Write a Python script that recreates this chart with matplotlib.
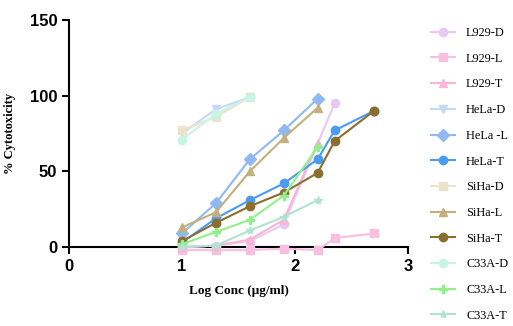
import matplotlib
matplotlib.use("Agg")
import matplotlib.pyplot as plt

# log concentration values
x5 = [1, 1.3, 1.6, 1.9, 2.2]
x3 = [1, 1.3, 1.6]
x7 = [1, 1.3, 1.6, 1.9, 2.2, 2.35, 2.7]
x_l929d = [1, 1.3, 1.6, 1.9, 2.35]

l929_d = [0, 1, 4, 15, 95]
l929_l = [-2, -2, -2, -1, -2, 6, 9]
l929_t = [0, 1, 5, 18, 69]
hela_d = [75, 91, 99]
hela_l = [9, 29, 58, 77, 98]
hela_t = [3, 19, 31, 42, 58, 77, 90]
siha_d = [77, 86, 99]
siha_l = [13, 23, 50, 72, 92]
siha_t = [4, 16, 27, 36, 49, 70, 90]
c33a_d = [71, 88, 99]
c33a_l = [2, 10, 18, 34, 66]
c33a_t = [0, 1, 11, 20, 31]

series = [
    ("L929-D", x_l929d, l929_d, "#e9c9f2", "o"),
    ("L929-L", x7, l929_l, "#f8bfe0", "s"),
    ("L929-T", x5, l929_t, "#f7b6d8", "^"),
    ("HeLa-D", x3, hela_d, "#c3d9f7", "v"),
    ("HeLa -L", x5, hela_l, "#8fb9f0", "D"),
    ("HeLa-T", x7, hela_t, "#4c9bf2", "o"),
    ("SiHa-D", x3, siha_d, "#ebe3cb", "s"),
    ("SiHa-L", x5, siha_l, "#c2b07e", "^"),
    ("SiHa-T", x7, siha_t, "#8a6e2f", "o"),
    ("C33A-D", x3, c33a_d, "#c9f3e2", "o"),
    ("C33A-L", x5, c33a_l, "#8ff08c", "P"),
    ("C33A-T", x5, c33a_t, "#b2e2d0", "*"),
]

fig = plt.figure(figsize=(5.13, 3.26), dpi=100)
ax = fig.add_axes([0.1345, 0.242, 0.661, 0.697])

for name, xs, ys, col, mk in series:
    ax.plot(xs, ys, color=col, marker=mk, markersize=6, linewidth=1.5,
            label=name, clip_on=False)

ax.set_xlim(0, 3)
ax.set_ylim(0, 150)
ax.set_xticks([0, 1, 2, 3])
ax.set_yticks([0, 50, 100, 150])
for s in ["top", "right"]:
    ax.spines[s].set_visible(False)
for s in ["left", "bottom"]:
    ax.spines[s].set_linewidth(1.5)
    ax.spines[s].set_zorder(1)
ax.tick_params(width=1.5, length=5, labelsize=12, direction="out")
for lab in ax.get_xticklabels() + ax.get_yticklabels():
    lab.set_fontfamily("Liberation Sans")
    lab.set_fontweight("bold")

ax.set_xlabel("Log Conc (μg/ml)", family="Liberation Serif", fontweight="bold", fontsize=9.5, labelpad=8)
ax.set_ylabel("% Cytotoxicity", family="Liberation Serif", fontweight="bold", fontsize=9, labelpad=10)

fig.legend(loc="upper left", bbox_to_anchor=(0.83, 0.932), frameon=False,
           prop={"family": "Liberation Serif", "size": 8.8},
           labelspacing=1.12, handlelength=2.0, handletextpad=0.9, borderaxespad=0)

fig.savefig("out.png", dpi=100)
